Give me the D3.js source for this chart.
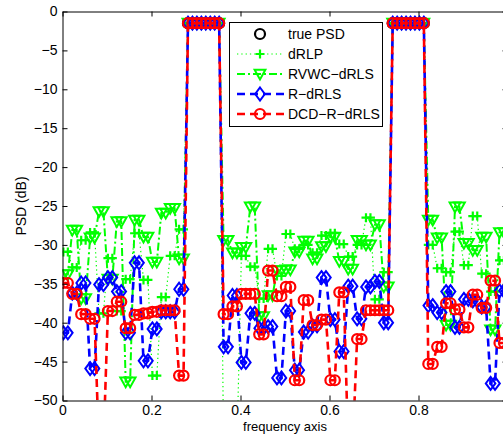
<!DOCTYPE html>
<html><head><meta charset="utf-8">
<script src="https://cdn.jsdelivr.net/npm/d3@7"></script>
<style>
body{margin:0;background:#fff}
svg{display:block}
text{font-family:"Liberation Sans",Arial,Helvetica,sans-serif;font-size:14px;fill:#000}
</style>
</head><body>
<svg id="c" width="503" height="434"></svg>
<script>
// frequency bins (normalized)
const freq = [
0.002,0.012,0.022,0.032,0.042,0.052,0.062,0.072,0.082,0.092,
0.102,0.112,0.122,0.132,0.142,0.152,0.162,0.172,0.182,0.192,
0.202,0.212,0.222,0.232,0.242,0.252,0.262,0.272,0.282,0.292,
0.302,0.312,0.322,0.332,0.342,0.352,0.362,0.372,0.382,0.392,
0.402,0.412,0.422,0.432,0.442,0.452,0.462,0.472,0.482,0.492,
0.502,0.512,0.522,0.532,0.542,0.552,0.562,0.572,0.582,0.592,
0.602,0.612,0.622,0.632,0.642,0.652,0.662,0.672,0.682,0.692,
0.702,0.712,0.722,0.732,0.742,0.752,0.762,0.772,0.782,0.792,
0.802,0.812,0.822,0.832,0.842,0.852,0.862,0.872,0.882,0.892,
0.902,0.912,0.922,0.932,0.942,0.952,0.962,0.972,0.982,0.992];

// true PSD (only the pass-bands lie inside the axes)
const truePSDFreq = [0.282,0.292,0.302,0.312,0.322,0.332,0.342,0.352,
                     0.742,0.752,0.762,0.772,0.782,0.792,0.802,0.812];
const truePSD = [-1.5,-1.5,-1.5,-1.5,-1.5,-1.5,-1.5,-1.5,
                 -1.5,-1.5,-1.5,-1.5,-1.5,-1.5,-1.5,-1.5];

const dRLP = [
-30.9,-30.9,-32.9,-32.9,-29.4,-29.4,-28.4,-28.4,-38.8,-38.8,-31.7,-31.7,-38.5,-38.5,-34.4,-34.4,-28.5,-28.5,-34.5,-34.5,
-46.8,-46.8,-36.7,-36.7,-31.4,-31.4,-28.0,-28.0,-1.5,-1.5,-1.5,-1.5,-1.5,-1.5,-1.5,-1.5,-56,-56,-56,-56,
-31.4,-31.4,-32.8,-32.8,-36.9,-36.9,-30.5,-30.5,-34.0,-34.0,-28.6,-28.6,-30.5,-30.5,-30.0,-30.0,-31.0,-31.0,-28.8,-28.8,
-28.5,-28.5,-29.9,-29.9,-31.5,-31.5,-30.0,-30.0,-26.5,-26.5,-37.0,-37.0,-33.5,-33.5,-1.5,-1.5,-1.5,-1.5,-1.5,-1.5,
-1.5,-1.5,-30.0,-30.0,-33.0,-33.0,-33.5,-33.5,-28.3,-28.3,-32.6,-32.6,-26.3,-26.3,-33.7,-33.7,-36.0,-36.0,-32.0,-32.0];

const rvwcDRLS = [
-33.8,-33.8,-28.1,-28.1,-36.9,-36.9,-29.1,-29.1,-25.7,-25.7,-34.4,-34.4,-27.0,-27.0,-47.6,-47.6,-26.8,-26.8,-29.0,-29.0,
-32.2,-32.2,-25.9,-25.9,-25.3,-25.3,-31.8,-31.8,-1.5,-1.5,-1.5,-1.5,-1.5,-1.5,-1.5,-1.5,-29.4,-29.4,-31.0,-31.0,
-30.3,-30.3,-25.1,-25.1,-39.2,-39.2,-36.5,-36.5,-33.3,-33.3,-33.2,-33.2,-30.9,-30.9,-29.5,-29.5,-31.8,-31.8,-30.2,-30.2,
-29.0,-29.0,-32.1,-32.1,-33.1,-33.1,-29.4,-29.4,-30.0,-30.0,-27.4,-27.4,-35.4,-35.4,-1.5,-1.5,-1.5,-1.5,-1.5,-1.5,
-1.5,-1.5,-26.8,-26.8,-29.1,-29.1,-40.3,-40.3,-25.1,-25.1,-29.8,-29.8,-30.7,-30.7,-29.0,-29.0,-40.9,-40.9,-28.4,-28.4];

const rDRLS = [
-41.3,-41.3,-36.2,-36.2,-34.9,-34.9,-45.9,-45.9,-35.1,-35.1,-34.2,-34.2,-36.0,-36.0,-41.3,-41.3,-32.3,-32.3,-44.9,-44.9,
-40.8,-40.8,-38.6,-38.6,-38.6,-38.6,-35.7,-35.7,-1.5,-1.5,-1.5,-1.5,-1.5,-1.5,-1.5,-1.5,-43.1,-43.1,-36.5,-36.5,
-45.1,-45.1,-38.8,-38.8,-40.7,-40.7,-40.5,-40.5,-47.1,-47.1,-38.5,-38.5,-46.1,-46.1,-41.2,-41.2,-40.4,-40.4,-34.2,-34.2,
-39.6,-39.6,-43.7,-43.7,-35.3,-35.3,-39.5,-39.5,-35.4,-35.4,-34.7,-34.7,-40.0,-40.0,-1.5,-1.5,-1.5,-1.5,-1.5,-1.5,
-1.5,-1.5,-37.8,-37.8,-38.7,-38.7,-36.0,-36.0,-40.6,-40.6,-37.0,-37.0,-37.2,-37.2,-38.0,-38.0,-47.8,-47.8,-35.9,-35.9];

const dcdRDRLS = [
-34.9,-34.9,-36.3,-36.3,-38.9,-38.9,-39.5,-39.5,-56,-56,-38.5,-38.5,-37.3,-37.3,-40.7,-40.7,-39.0,-39.0,-38.8,-38.8,
-38.6,-38.6,-38.4,-38.4,-38.4,-38.4,-46.8,-46.8,-1.5,-1.5,-1.5,-1.5,-1.5,-1.5,-1.5,-1.5,-38.9,-38.9,-37.9,-37.9,
-36.3,-36.3,-36.3,-36.3,-41.5,-41.5,-33.3,-33.3,-36.6,-36.6,-35.4,-35.4,-47.4,-47.4,-37.1,-37.1,-40.3,-40.3,-39.6,-39.6,
-47.4,-47.4,-36.1,-36.1,-56,-56,-42.1,-42.1,-38.4,-38.4,-38.4,-38.4,-38.4,-38.4,-1.5,-1.5,-1.5,-1.5,-1.5,-1.5,
-1.5,-1.5,-45.3,-45.3,-43.1,-43.1,-37.5,-37.5,-38.3,-38.3,-40.6,-40.6,-36.4,-36.4,-38.1,-38.1,-34.6,-34.6,-42.6,-42.6];

const legendLabels = ["true PSD","dRLP","RVWC\u2212dRLS","R\u2212dRLS","DCD\u2212R\u2212dRLS"];
const xTicks = [0,0.2,0.4,0.6,0.8,1];
const xTickLabels = ["0","0.2","0.4","0.6","0.8",""]; // "1" falls outside the cropped picture
const yTicks = [-50,-45,-40,-35,-30,-25,-20,-15,-10,-5,0];

const svg = d3.select("#c");
const x = d3.scaleLinear().domain([0,1]).range([62.5,507.5]);
const y = d3.scaleLinear().domain([-50,0]).range([400.5,11.5]);

// marker shapes
const shapes = {
  circle: "M5,0A5,5 0 1,1 -5,0A5,5 0 1,1 5,0Z",
  plus: "M-4.5,0H4.5M0,-4.5V4.5",
  tri: "M-5.4,-4.3L5.4,-4.3L0,5.4Z",
  diamond: "M0,-6.5L4.8,0L0,6.5L-4.8,0Z"
};

const series = [
  {name:legendLabels[0], xs:truePSDFreq, ys:truePSD, color:"#000", dash:null, lw:0, shape:"circle", mw:2.2},
  {name:legendLabels[1], xs:freq, ys:dRLP, color:"#00ff00", dash:"1.3,3", lw:1.2, shape:"plus", mw:2.2},
  {name:legendLabels[2], xs:freq, ys:rvwcDRLS, color:"#00ff00", dash:"8,3,2,3", lw:2, shape:"tri", mw:2},
  {name:legendLabels[3], xs:freq, ys:rDRLS, color:"#0000ff", dash:"8,5", lw:2.6, shape:"diamond", mw:2},
  {name:legendLabels[4], xs:freq, ys:dcdRDRLS, color:"#ff0000", dash:"8,5", lw:2.6, shape:"circle", mw:2.2}
];

svg.append("defs").append("clipPath").attr("id","plotclip")
  .append("rect").attr("x",62.5).attr("y",11.5).attr("width",445).attr("height",389);

const plot = svg.append("g").attr("clip-path","url(#plotclip)");
const line = d3.line();

series.forEach(s => {
  const pts = s.ys.map((v,i)=>[x(s.xs[i]), y(v)]);
  if (s.lw > 0) {
    plot.append("path").attr("d", line(pts))
      .attr("fill","none").attr("stroke",s.color).attr("stroke-width",s.lw)
      .attr("stroke-dasharray",s.dash);
  }
  plot.append("g").selectAll("path").data(pts).join("path")
    .attr("transform",d=>`translate(${d[0]},${d[1]})`)
    .attr("d",shapes[s.shape]).attr("fill","none")
    .attr("stroke",s.color).attr("stroke-width",s.mw);
});

// axes
function styleAxis(g){
  g.attr("font-size",14).attr("font-family",'"Liberation Sans",Arial,sans-serif');
  g.selectAll("path.domain").attr("stroke","#000").attr("stroke-width",1);
  g.selectAll(".tick line").attr("stroke","#000").attr("stroke-width",1);
  g.selectAll("text").attr("fill","#000");
}
svg.append("g").attr("transform","translate(0,400.5)")
  .call(d3.axisBottom(x).tickValues(xTicks).tickFormat((d,i)=>xTickLabels[i]).tickSizeInner(-5).tickSizeOuter(0).tickPadding(5))
  .call(styleAxis);
svg.append("g").attr("transform","translate(62.5,0)")
  .call(d3.axisLeft(y).tickValues(yTicks).tickSizeInner(-5).tickSizeOuter(0).tickPadding(5))
  .call(styleAxis);
svg.append("g").attr("transform","translate(0,11.5)")
  .call(d3.axisTop(x).tickValues(xTicks).tickFormat("").tickSizeInner(-5).tickSizeOuter(0))
  .call(styleAxis);
svg.append("g").attr("transform","translate(507.5,0)")
  .call(d3.axisRight(y).tickValues(yTicks).tickFormat("").tickSizeInner(-5).tickSizeOuter(0))
  .call(styleAxis);

// axis labels
svg.append("text").attr("transform","translate(26,206) rotate(-90)")
  .attr("text-anchor","middle").text("PSD (dB)");
svg.append("text").attr("x",285).attr("y",431).style("font-size","13px")
  .attr("text-anchor","middle").text("frequency axis");

// legend
const lg = svg.append("g");
lg.append("rect").attr("x",229.5).attr("y",22.5).attr("width",153).attr("height",104)
  .attr("fill","#fff").attr("stroke","#000").attr("stroke-width",1);
series.forEach((s,i)=>{
  const yy = 34 + i*20;
  if (s.lw > 0) {
    lg.append("line").attr("x1",237).attr("x2",284).attr("y1",yy).attr("y2",yy)
      .attr("stroke",s.color).attr("stroke-width",s.lw).attr("stroke-dasharray",s.dash);
  }
  lg.append("path").attr("transform",`translate(260,${yy})`).attr("d",shapes[s.shape])
    .attr("fill","none").attr("stroke",s.color).attr("stroke-width",s.mw);
  lg.append("text").attr("x",288).attr("y",yy).attr("dy","0.36em").text(s.name);
});
</script>
</body></html>
